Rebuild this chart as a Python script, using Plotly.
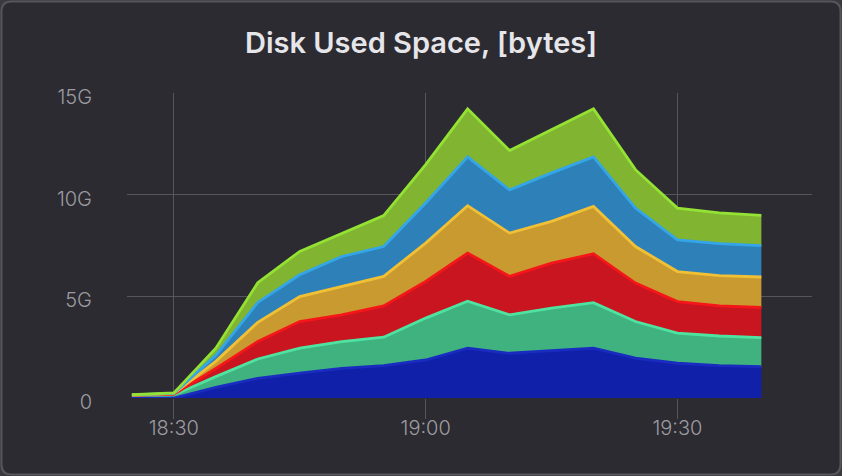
import plotly.graph_objects as go

times = ["18:25", "18:30", "18:35", "18:40", "18:45", "18:50", "18:55", "19:00",
         "19:05", "19:10", "19:15", "19:20", "19:25", "19:30", "19:35", "19:40"]

# per-series disk usage in GB (stacked)
s1 = [0.00, 0.00, 0.52, 0.97, 1.22, 1.46, 1.59, 1.87, 2.45, 2.20, 2.33, 2.45, 1.96, 1.71, 1.59, 1.54]
s2 = [0.12, 0.15, 0.53, 0.95, 1.23, 1.31, 1.40, 2.06, 2.31, 1.89, 2.09, 2.24, 1.80, 1.48, 1.46, 1.43]
s3 = [0.01, 0.03, 0.40, 0.86, 1.31, 1.32, 1.54, 1.80, 2.37, 1.89, 2.21, 2.40, 1.89, 1.55, 1.48, 1.48]
s4 = [0.01, 0.03, 0.35, 0.94, 1.23, 1.39, 1.45, 1.89, 2.33, 2.13, 2.06, 2.33, 1.80, 1.48, 1.49, 1.50]
s5 = [0.01, 0.02, 0.30, 0.98, 1.07, 1.48, 1.47, 1.97, 2.40, 2.12, 2.38, 2.44, 1.89, 1.56, 1.57, 1.54]
s6 = [0.01, 0.02, 0.35, 0.97, 1.15, 1.15, 1.52, 1.89, 2.36, 1.94, 2.13, 2.36, 1.89, 1.56, 1.51, 1.49]

series = [s1, s2, s3, s4, s5, s6]
line_colors = ["#1a2cc0", "#4fe3a2", "#f5161a", "#f2c035", "#34a6e8", "#93e234"]
fill_colors = ["#1020a8", "#3fb27f", "#c8151f", "#c99a2f", "#2e80b8", "#80b431"]

y_ticks = [0, 5e9, 10e9, 15e9]
y_labels = ["0", "5G", "10G", "15G"]

x = ["2024-01-01 " + t + ":00" for t in times]

fig = go.Figure()
for vals, lc, fc in zip(series, line_colors, fill_colors):
    fig.add_trace(go.Scatter(
        x=x, y=[v * 1e9 for v in vals], mode="lines", stackgroup="one",
        line=dict(color=lc, width=2.8), fillcolor=fc, hoverinfo="skip",
    ))

W, H = 842, 476
L, R, T, B = 127, 30, 93, 78
pw, ph = W - L - R, H - T - B


def px2paper(px, py):
    return (px - L) / pw, (H - B - py) / ph


def P(px, py):
    a, b = px2paper(px, py)
    return f"{a:.5f},{b:.5f}"


# rounded card
x0, y0, x1, y1, r = 1.5, 1.5, W - 1.5, H - 1.5, 10
path = (f"M {P(x0 + r, y0)} L {P(x1 - r, y0)} Q {P(x1, y0)} {P(x1, y0 + r)} "
        f"L {P(x1, y1 - r)} Q {P(x1, y1)} {P(x1 - r, y1)} "
        f"L {P(x0 + r, y1)} Q {P(x0, y1)} {P(x0, y1 - r)} "
        f"L {P(x0, y0 + r)} Q {P(x0, y0)} {P(x0 + r, y0)} Z")

tick_font = dict(family="Inter", size=20, color="#9c9ca2", weight=300)

fig.update_layout(
    width=W, height=H,
    margin=dict(l=L, r=R, t=T, b=B, pad=0),
    paper_bgcolor="#3a3a3e",
    plot_bgcolor="rgba(0,0,0,0)",
    showlegend=False,
    title=dict(text="Disk Used Space, [bytes]", x=0.5, xref="container", xanchor="center",
               y=1 - 43 / H, yref="container", yanchor="middle",
               font=dict(family="Inter", size=29, color="#e6e6ea", weight=600)),
    shapes=[dict(type="path", path=path, xref="paper", yref="paper", layer="below",
                 fillcolor="#2c2b31", line=dict(color="#55555b", width=2))],
    xaxis=dict(
        type="date",
        range=["2024-01-01 18:24:25", "2024-01-01 19:46:02"],
        tick0="2024-01-01 18:30:00", dtick=30 * 60 * 1000,
        tickformat="%H:%M",
        showgrid=True, gridcolor="#55555c", gridwidth=1,
        ticks="outside", ticklen=20, tickcolor="#55555c", tickwidth=1,
        ticklabelstandoff=-8,
        tickfont=tick_font,
        showline=False, zeroline=False,
    ),
    yaxis=dict(
        range=[0, 15e9],
        tickvals=y_ticks, ticktext=y_labels,
        showgrid=True, gridcolor="#55555c", gridwidth=1,
        ticks="outside", ticklen=30, tickcolor="rgba(0,0,0,0)",
        ticklabelshift=4,
        tickfont=tick_font,
        showline=False, zeroline=False,
    ),
)

fig.write_html("out.html", config={"displayModeBar": False},
               post_script="document.body.style.margin='0';")
